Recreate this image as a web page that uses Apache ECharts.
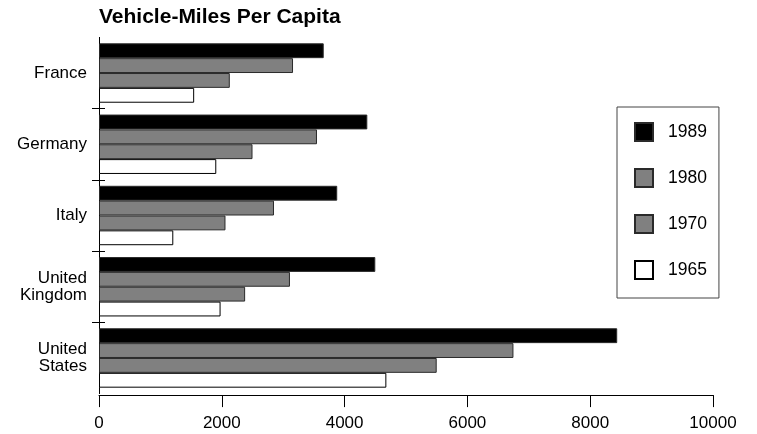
<!DOCTYPE html>
<html>
<head>
<meta charset="utf-8">
<title>Vehicle-Miles Per Capita</title>
<script src="https://cdn.jsdelivr.net/npm/echarts@6/dist/echarts.min.js"></script>
<style>
  html, body { margin: 0; padding: 0; background: #fff; }
  #chart { width: 757px; height: 434px; }
</style>
</head>
<body>
<div id="chart"></div>
<script>
// Vehicle-miles per capita by country, four survey years
const countries = ['France', 'Germany', 'Italy', 'United\nKingdom', 'United\nStates'];
const years = ['1989', '1980', '1970', '1965'];
const miles1989 = [3660, 4370, 3880, 4500, 8440];
const miles1980 = [3160, 3550, 2850, 3110, 6750];
const miles1970 = [2130, 2500, 2060, 2380, 5500];
const miles1965 = [1550, 1910, 1210, 1980, 4680];
const xTicks = [0, 2000, 4000, 6000, 8000, 10000];
// group separators sit between neighbouring categories
const groupSeparators = [1, 2, 3, 4];

const seriesValues = [miles1989, miles1980, miles1970, miles1965];
const fills = ['#000000', '#808080', '#808080', '#ffffff'];
const edges = ['#2a2a2a', '#2a2a2a', '#2a2a2a', '#000000'];

const FONT = '"Liberation Sans", Arial, Helvetica, sans-serif';

const chart = echarts.init(document.getElementById('chart'), null, { renderer: 'canvas' });

const separatorAxis = (inside, len) => ({
  type: 'value',
  position: 'left',
  inverse: true,
  min: 0,
  max: countries.length,
  interval: 1,
  axisLine: { show: false },
  axisLabel: { show: false },
  splitLine: { show: false },
  axisTick: {
    show: true,
    inside: inside,
    length: len,
    customValues: groupSeparators,
    lineStyle: { color: '#000', width: 1 }
  }
});

chart.setOption({
  animation: false,
  backgroundColor: '#ffffff',
  title: {
    text: 'Vehicle-Miles Per Capita',
    left: 99,
    top: 7,
    padding: 0,
    textStyle: { fontFamily: FONT, fontWeight: 'bold', fontSize: 21, color: '#000' }
  },
  legend: {
    data: years,
    orient: 'vertical',
    left: 617,
    top: 107,
    width: 104,
    padding: [15, 12, 18, 17],
    itemWidth: 18,
    itemHeight: 18,
    itemGap: 26,
    icon: 'rect',
    borderColor: '#444',
    borderWidth: 1,
    selectedMode: false,
    textStyle: { fontFamily: FONT, fontSize: 17.5, color: '#000', padding: [0, 0, 0, 10] }
  },
  grid: { left: 99, right: 44, top: 37.4, bottom: 40.4, containLabel: false },
  xAxis: {
    type: 'value',
    min: xTicks[0],
    max: xTicks[xTicks.length - 1],
    interval: xTicks[1] - xTicks[0],
    offset: 1.5,
    axisLine: { show: true, onZero: false, lineStyle: { color: '#000', width: 1 } },
    axisTick: { show: true, length: 12, lineStyle: { color: '#000', width: 1 } },
    axisLabel: {
      fontFamily: FONT, fontSize: 17, color: '#000', margin: 20,
      formatter: (v) => String(v)
    },
    splitLine: { show: false }
  },
  yAxis: [
    {
      type: 'category',
      data: countries,
      inverse: true,
      position: 'left',
      axisLine: { show: true, onZero: false, lineStyle: { color: '#000', width: 1 } },
      axisTick: { show: false },
      axisLabel: {
        fontFamily: FONT, fontSize: 17, color: '#000', margin: 12,
        align: 'right', lineHeight: 17
      },
      splitLine: { show: false }
    },
    separatorAxis(false, 7),
    separatorAxis(true, 6)
  ],
  series: years.map((y, i) => ({
    name: y,
    type: 'bar',
    yAxisIndex: 0,
    data: seriesValues[i],
    barGap: '0%',
    barCategoryGap: '16.6%',
    itemStyle: { color: fills[i], borderColor: edges[i], borderWidth: 1 }
  }))
});
</script>
</body>
</html>
